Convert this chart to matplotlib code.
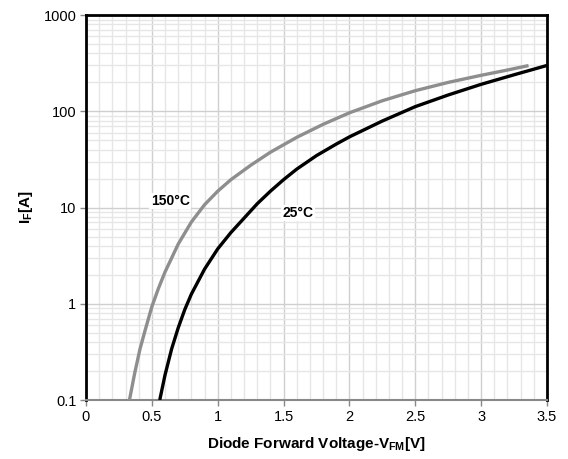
import matplotlib
matplotlib.use("Agg")
import matplotlib.pyplot as plt
from matplotlib.ticker import LogLocator, MultipleLocator, FixedLocator

plt.rcParams['font.family'] = ['Liberation Sans', 'DejaVu Sans']
plt.rcParams['mathtext.fontset'] = 'custom'
plt.rcParams['mathtext.bf'] = 'Liberation Sans:bold'
plt.rcParams['mathtext.rm'] = 'Liberation Sans:bold'
plt.rcParams['mathtext.default'] = 'bf'

# 25 degC curve
v_25 = [0.56, 0.60, 0.65, 0.70, 0.75, 0.80, 0.90, 1.00, 1.10, 1.20, 1.30, 1.40, 1.50, 1.60, 1.75, 1.90,
        2.00, 2.25, 2.50, 2.75, 3.00, 3.25, 3.50]
i_25 = [0.1, 0.182, 0.339, 0.562, 0.871, 1.26, 2.29, 3.72, 5.50, 7.76, 10.96, 14.8, 19.5, 25.1, 34.7, 45.7,
        54.3, 79.4, 112, 148, 191, 240, 300]

# 150 degC curve
v_150 = [0.33, 0.37, 0.41, 0.45, 0.50, 0.55, 0.60, 0.70, 0.80, 0.90, 1.00, 1.10, 1.25, 1.40, 1.60, 1.80,
         2.00, 2.25, 2.50, 2.75, 3.00, 3.20, 3.36]
i_150 = [0.1, 0.191, 0.339, 0.537, 0.933, 1.445, 2.14, 4.17, 7.08, 10.7, 14.8, 19.5, 27.5, 37.6, 53.7, 73.3,
         96.6, 129, 164, 200, 237, 269, 299]

x_ticks = [0, 0.5, 1, 1.5, 2, 2.5, 3, 3.5]
y_ticks = [0.1, 1, 10, 100, 1000]
y_labels = ['0.1', '1', '10', '100', '1000']

fig = plt.figure(figsize=(5.68, 4.59), dpi=100)
ax = fig.add_axes([0.1514, 0.1285, 0.8116, 0.8385])

ax.plot(v_150, i_150, color='#8e8e8e', lw=2.4, solid_capstyle='butt', solid_joinstyle='round', zorder=3)
ax.plot(v_25, i_25, color='black', lw=2.4, solid_capstyle='butt', solid_joinstyle='round', zorder=4)

ax.set_yscale('log')
ax.set_xlim(0, 3.5)
ax.set_ylim(0.1, 1000)

ax.xaxis.set_major_locator(FixedLocator(x_ticks))
ax.xaxis.set_minor_locator(MultipleLocator(0.1))
ax.yaxis.set_major_locator(FixedLocator(y_ticks))
ax.yaxis.set_minor_locator(LogLocator(base=10, subs=range(2, 10)))
ax.set_xticklabels([f'{t:g}' for t in x_ticks])
ax.set_yticklabels(y_labels)

ax.grid(which='major', color='#cfcfcf', lw=1.0, zorder=0)
ax.grid(which='minor', color='#e6e6e6', lw=1.0, zorder=0)
ax.set_axisbelow(True)

ax.tick_params(which='major', length=4, width=1, color='#888888', labelsize=10.5, pad=3)
ax.tick_params(which='minor', length=0)

for side in ['left', 'top', 'right']:
    ax.spines[side].set_color('black')
    ax.spines[side].set_linewidth(2)
ax.spines['bottom'].set_color('#888888')
ax.spines['bottom'].set_linewidth(1.5)

ax.set_xlabel('Diode Forward Voltage-V$_{FM}$[V]', fontsize=11, fontweight='bold', labelpad=8)
ax.set_ylabel('I$_{F}$[A]', fontsize=11, fontweight='bold', labelpad=6)

ax.text(0.64, 11.7, '150°C', fontsize=10, fontweight='bold', ha='center', va='center',
        bbox=dict(facecolor='white', edgecolor='none', pad=1), zorder=2)
ax.text(1.61, 8.8, '25°C', fontsize=10, fontweight='bold', ha='center', va='center',
        bbox=dict(facecolor='white', edgecolor='none', pad=1), zorder=2)

fig.savefig('out.png', dpi=100)
